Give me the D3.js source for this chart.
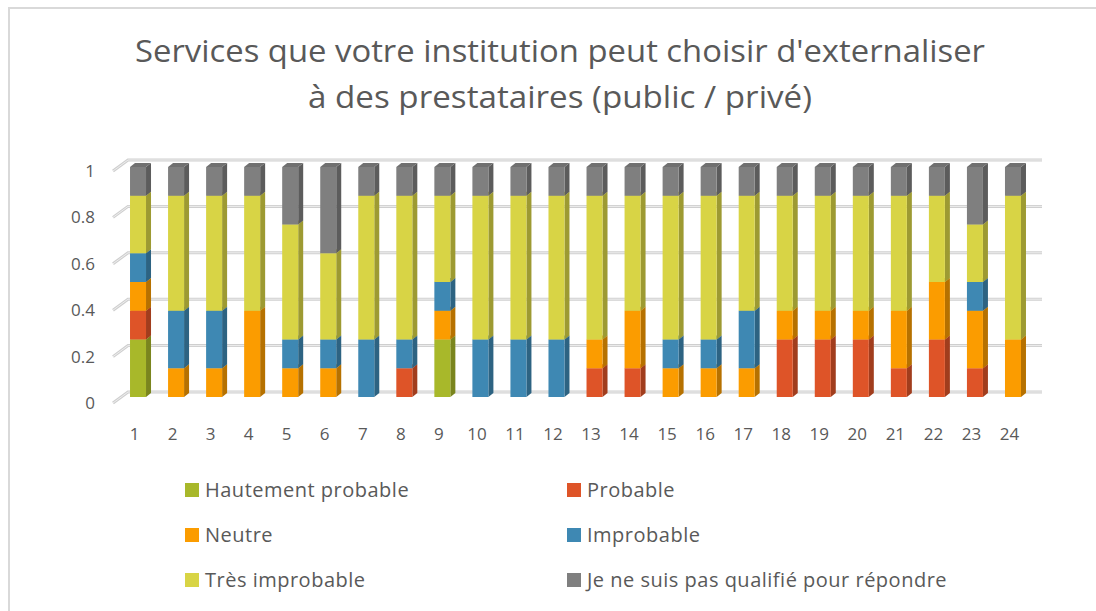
<!DOCTYPE html>
<html>
<head>
<meta charset="utf-8">
<script src="https://cdn.jsdelivr.net/npm/d3@7"></script>
<style>
  html, body { margin: 0; padding: 0; background: #fff; }
  svg { display: block; }
  text { font-family: "Open Sans", "Noto Sans", sans-serif; fill: #595959; }
</style>
</head>
<body>
<svg id="chart" width="1096" height="611"></svg>
<script>
// ---- data ----
const categories = ["1","2","3","4","5","6","7","8","9","10","11","12","13","14","15","16","17","18","19","20","21","22","23","24"];
const seriesNames = ["Hautement probable","Probable","Neutre","Improbable","Très improbable","Je ne suis pas qualifié pour répondre"];
const hautementProbable = [0.25,0,0,0,0,0,0,0,0.25,0,0,0,0,0,0,0,0,0,0,0,0,0,0,0];
const probable          = [0.125,0,0,0,0,0,0,0.125,0,0,0,0,0.125,0.125,0,0,0,0.25,0.25,0.25,0.125,0.25,0.125,0];
const neutre            = [0.125,0.125,0.125,0.375,0.125,0.125,0,0,0.125,0,0,0,0.125,0.25,0.125,0.125,0.125,0.125,0.125,0.125,0.25,0.25,0.25,0.25];
const improbable        = [0.125,0.25,0.25,0,0.125,0.125,0.25,0.125,0.125,0.25,0.25,0.25,0,0,0.125,0.125,0.25,0,0,0,0,0,0.125,0];
const tresImprobable    = [0.25,0.5,0.5,0.5,0.5,0.375,0.625,0.625,0.375,0.625,0.625,0.625,0.625,0.5,0.625,0.625,0.5,0.5,0.5,0.5,0.5,0.375,0.25,0.625];
const nePasRepondre     = [0.125,0.125,0.125,0.125,0.25,0.375,0.125,0.125,0.125,0.125,0.125,0.125,0.125,0.125,0.125,0.125,0.125,0.125,0.125,0.125,0.125,0.125,0.25,0.125];
const yTicks = [0, 0.2, 0.4, 0.6, 0.8, 1];
const yTickLabels = ["0","0.2","0.4","0.6","0.8","1"];
const colors = ["#a8b82a","#de5428","#fb9c00","#3e88b3","#d8d445","#7f7f7f"];
const titleLines = ["Services que votre institution peut choisir d'externaliser", "à des prestataires (public / privé)"];

const seriesValues = [hautementProbable, probable, neutre, improbable, tresImprobable, nePasRepondre];
const table = categories.map((c, i) => {
  const row = { cat: c };
  seriesNames.forEach((s, k) => row[s] = seriesValues[k][i]);
  return row;
});

const svg = d3.select("#chart");

// chart border
svg.append("rect").attr("x", 9).attr("y", 8).attr("width", 1100).attr("height", 620)
  .attr("fill", "#fff").attr("stroke", "#d9d9d9").attr("stroke-width", 2);

// title
const titleG = svg.append("g");
const titleWidths = [850, 504];
titleLines.forEach((t, i) => {
  titleG.append("text")
    .attr("x", 560).attr("y", 62 + i * 46)
    .attr("text-anchor", "middle")
    .attr("font-size", 31)
    .attr("textLength", titleWidths[i])
    .attr("lengthAdjust", "spacingAndGlyphs")
    .text(t);
});

// scales
const x = d3.scalePoint().domain(categories).range([119, 1032]).padding(0.5);
const yFront = d3.scaleLinear().domain([0, 1]).range([397, 167]);
const yBack  = d3.scaleLinear().domain([0, 1]).range([392, 160]);
const yWall  = d3.scaleLinear().domain([0, 1]).range([403, 171]);
const barW = 16, dx = 5, dy = 4;
const wallX0 = 113, wallX1 = 128, backRight = 1042;

// gridlines (back wall + side wall)
const grid = svg.append("g");
yTicks.forEach(v => {
  grid.append("path")
    .attr("d", `M${wallX0},${yWall(v)}L${wallX1},${yBack(v)}L${backRight},${yBack(v)}`)
    .attr("fill", "none").attr("stroke", "#cfcfcf").attr("stroke-width", 3);
  grid.append("path")
    .attr("d", `M${wallX0},${yWall(v)}L${wallX1},${yBack(v)}L${backRight},${yBack(v)}`)
    .attr("fill", "none").attr("stroke", "#eeeeee").attr("stroke-width", 1);
});

// y axis labels
const yAxis = d3.axisLeft(yWall).tickValues(yTicks)
  .tickFormat((d, i) => yTickLabels[i]).tickSize(0).tickPadding(0);
const yg = svg.append("g").attr("transform", "translate(95,0)").call(yAxis);
yg.select(".domain").remove();
yg.selectAll("text").attr("font-size", 17).attr("fill", "#595959")
  .style("font-family", "'Open Sans', sans-serif");

// x axis labels
const xAxis = d3.axisBottom(x).tickSize(0).tickPadding(0);
const xg = svg.append("g").attr("transform", "translate(-4,428)").call(xAxis);
xg.select(".domain").remove();
xg.selectAll("text").attr("font-size", 17).attr("fill", "#595959")
  .style("font-family", "'Open Sans', sans-serif");

// stacked 3D bars
const stack = d3.stack().keys(seriesNames)(table);
const bars = svg.append("g");
table.forEach((row, i) => {
  const cx = x(row.cat);
  const x0 = cx - barW / 2, x1 = cx + barW / 2;
  stack.forEach((layer, k) => {
    const d = layer[i];
    if (d[1] - d[0] <= 0) return;
    const yb = yFront(d[0]), yt = yFront(d[1]);
    const c = d3.color(colors[k]);
    const g = bars.append("g");
    g.append("path")
      .attr("d", `M${x1},${yb}L${x1 + dx},${yb - dy}L${x1 + dx},${yt - dy}L${x1},${yt}Z`)
      .attr("fill", c.darker(0.9));
    g.append("path")
      .attr("d", `M${x0},${yt}L${x0 + dx},${yt - dy}L${x1 + dx},${yt - dy}L${x1},${yt}Z`)
      .attr("fill", c.darker(0.35));
    g.append("rect").attr("x", x0).attr("y", yt).attr("width", barW).attr("height", yb - yt)
      .attr("fill", c);
  });
});

// legend
const legendPos = [[185, 490], [567, 490], [185, 535], [567, 535], [185, 580], [567, 580]];
const legend = svg.append("g");
seriesNames.forEach((s, k) => {
  const [lx, ly] = legendPos[k];
  legend.append("rect").attr("x", lx).attr("y", ly - 7).attr("width", 14).attr("height", 14)
    .attr("fill", colors[k]);
  legend.append("text").attr("x", lx + 20).attr("y", ly).attr("dy", "0.35em")
    .attr("font-size", 20).attr("letter-spacing", 0.5).text(s);
});
</script>
</body>
</html>
